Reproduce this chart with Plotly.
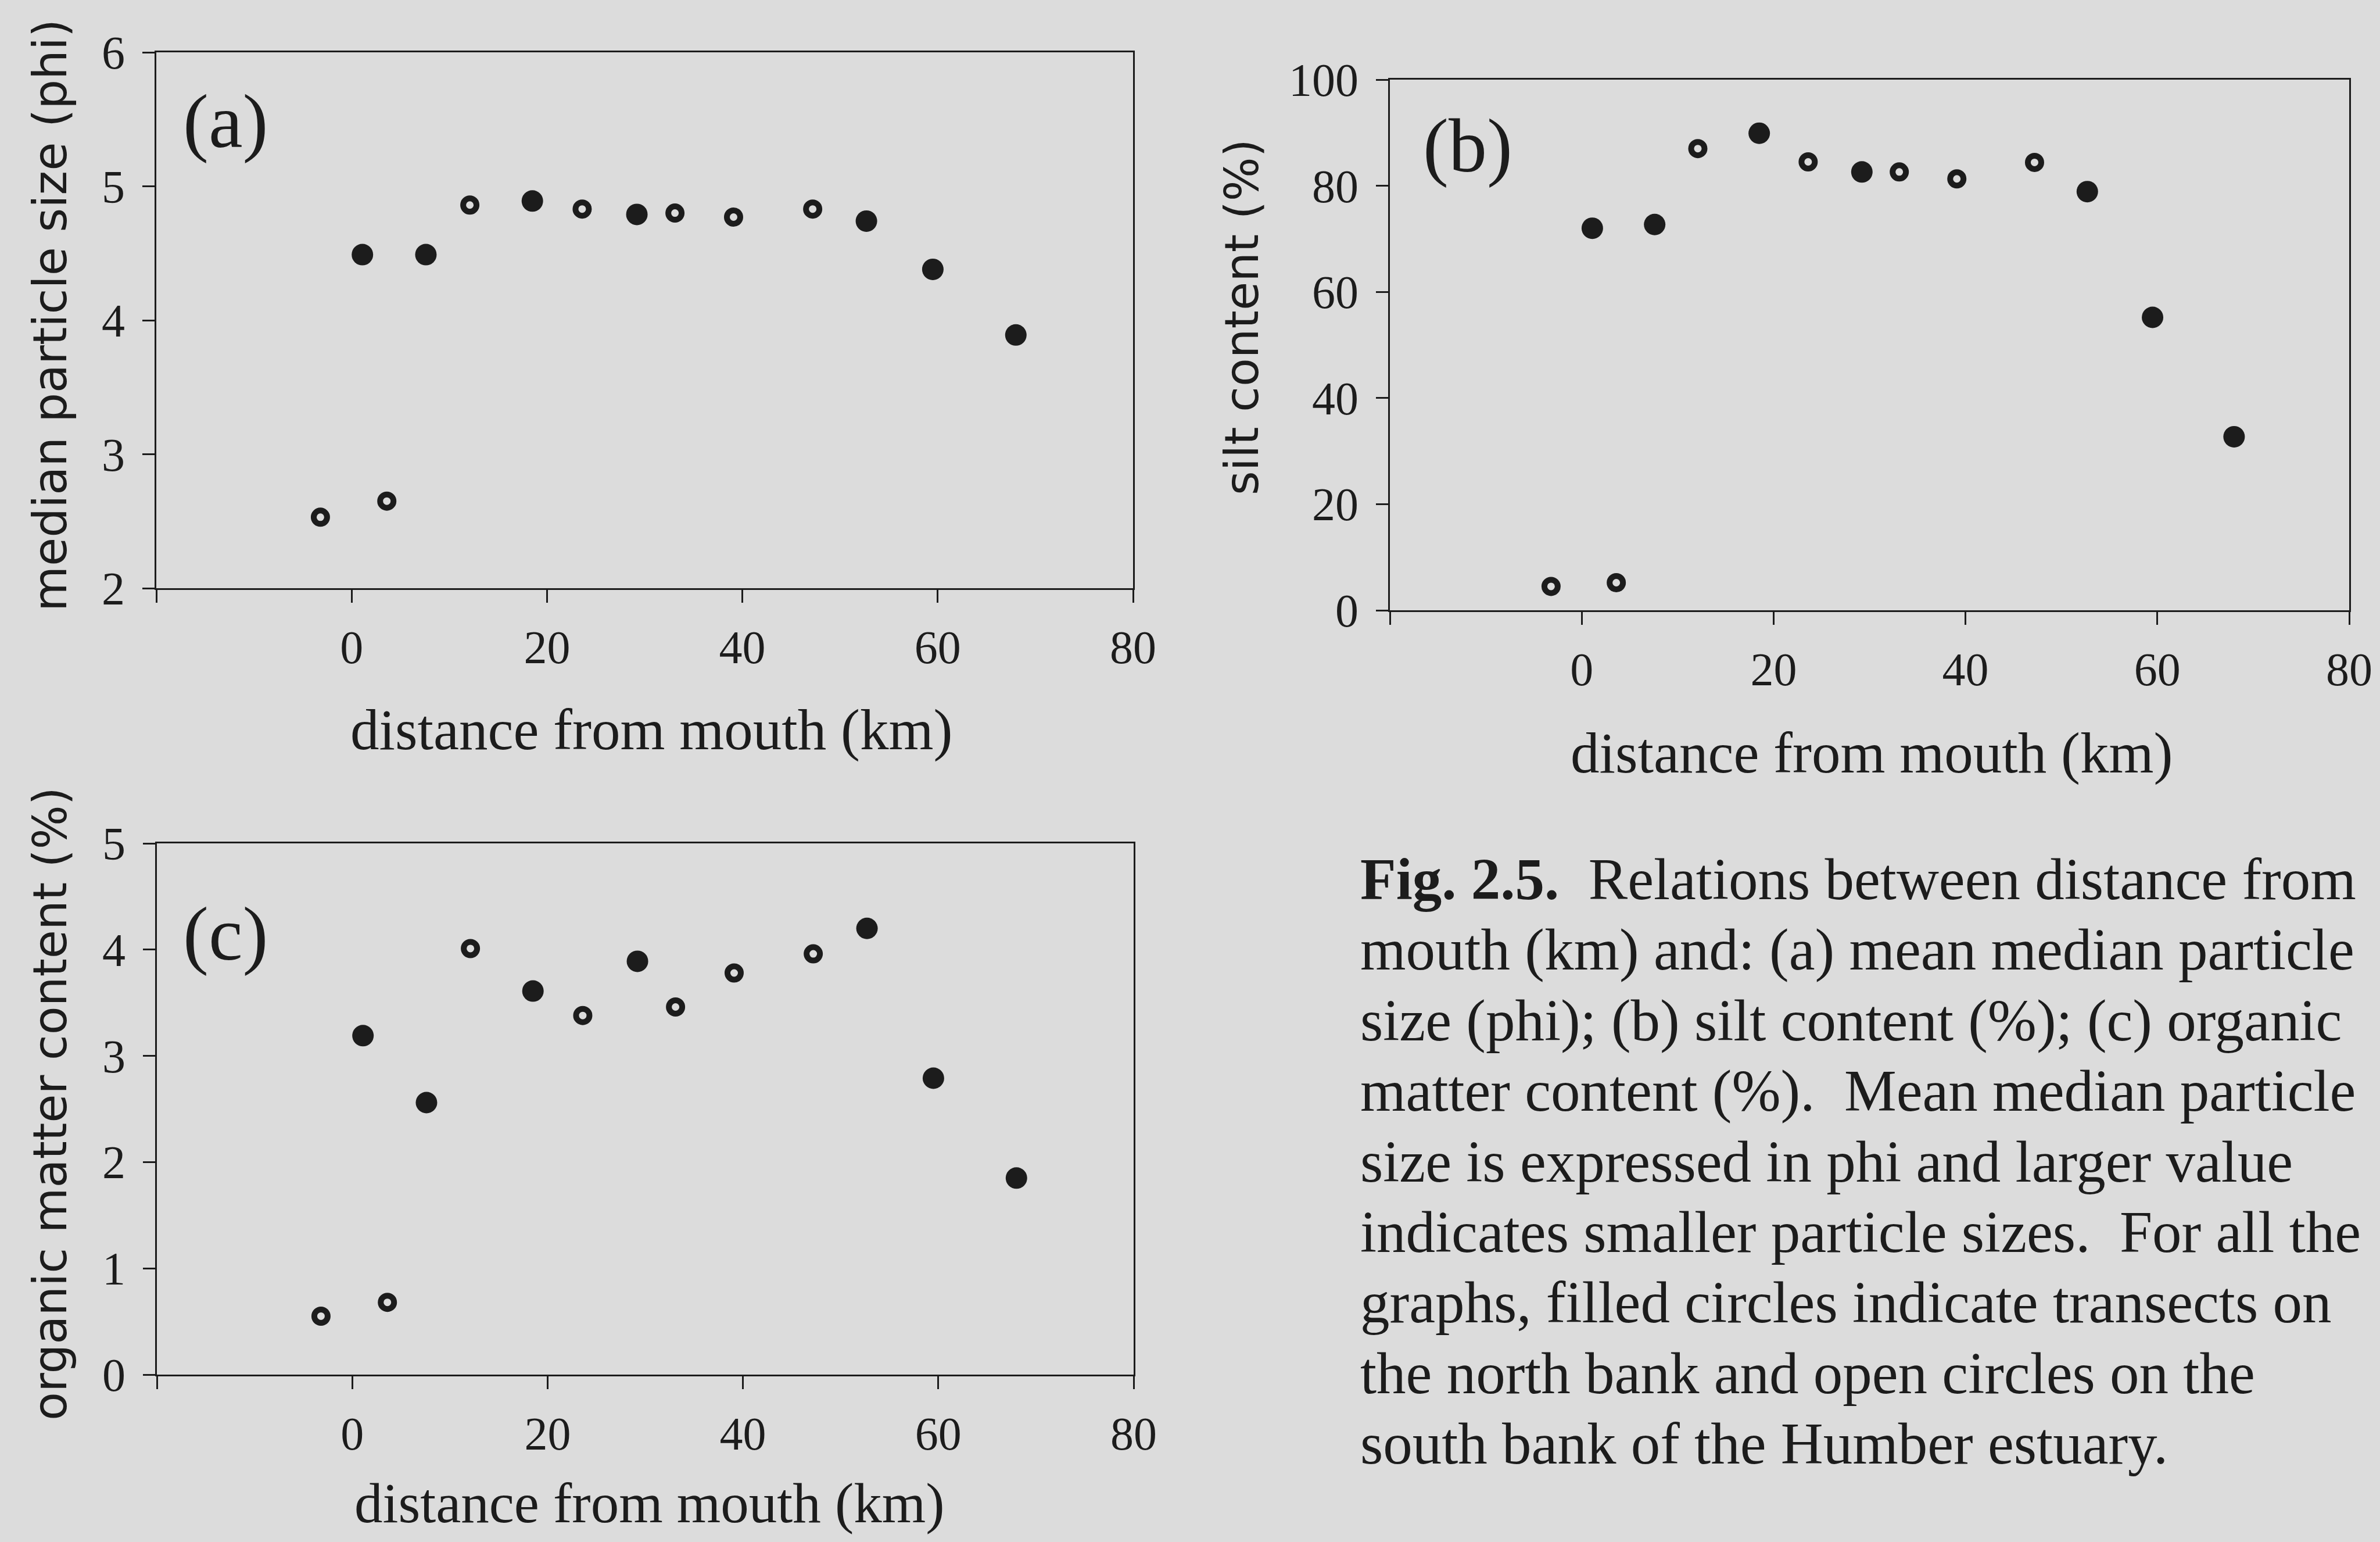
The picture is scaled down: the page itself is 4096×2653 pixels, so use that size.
import plotly.graph_objects as go

# ---------------- data ----------------
south_km = [-3.2, 3.6, 12.1, 23.6, 33.1, 39.1, 47.2]      # open circles (south bank)
north_km = [1.1, 7.6, 18.5, 29.2, 52.7, 59.5, 68.0]       # filled circles (north bank)

phi_south = [2.53, 2.65, 4.86, 4.83, 4.80, 4.77, 4.83]
phi_north = [4.49, 4.49, 4.89, 4.79, 4.74, 4.38, 3.89]

silt_south = [4.5, 5.2, 87.0, 84.5, 82.6, 81.3, 84.4]
silt_north = [72.0, 72.7, 89.9, 82.6, 78.9, 55.2, 32.7]

om_south = [0.55, 0.68, 4.01, 3.38, 3.46, 3.78, 3.96]
om_north = [3.19, 2.56, 3.61, 3.89, 4.20, 2.79, 1.85]

x_tickvals = [-20, 0, 20, 40, 60, 80]
x_ticktext = ["", "0", "20", "40", "60", "80"]
y_ticks_a = [2, 3, 4, 5, 6]
y_ticks_b = [0, 20, 40, 60, 80, 100]
y_ticks_c = [0, 1, 2, 3, 4, 5]

caption_lines = [
    "<b>Fig. 2.5.</b>  Relations between distance from",
    "mouth (km) and: (a) mean median particle",
    "size (phi); (b) silt content (%); (c) organic",
    "matter content (%).  Mean median particle",
    "size is expressed in phi and larger value",
    "indicates smaller particle sizes.  For all the",
    "graphs, filled circles indicate transects on",
    "the north bank and open circles on the",
    "south bank of the Humber estuary.",
]

# ---------------- layout constants ----------------
W, H = 4096, 2653
BG = "#dcdcdc"
INK = "#1c1c1c"
SERIF = "Liberation Serif, Times New Roman, serif"
SANS = "DejaVu Sans, Verdana, sans-serif"


def px_x(p):
    return p / W


def px_y(p):
    return 1 - p / H


fig = go.Figure()

panels = [
    ("x", "y", phi_south, phi_north),
    ("x2", "y2", silt_south, silt_north),
    ("x3", "y3", om_south, om_north),
]
for xa, ya, s_vals, n_vals in panels:
    fig.add_trace(go.Scatter(
        x=south_km, y=s_vals, xaxis=xa, yaxis=ya, mode="markers",
        marker=dict(symbol="circle-open", size=23, color=INK,
                    line=dict(width=10, color=INK)),
        showlegend=False, cliponaxis=False))
    fig.add_trace(go.Scatter(
        x=north_km, y=n_vals, xaxis=xa, yaxis=ya, mode="markers",
        marker=dict(symbol="circle", size=37, color=INK,
                    line=dict(width=0)),
        showlegend=False, cliponaxis=False))

axis_common = dict(
    showline=True, linewidth=3, linecolor=INK, mirror=True,
    ticks="outside", tickwidth=3, tickcolor=INK,
    showgrid=False, zeroline=False, automargin=False,
    tickfont=dict(family=SERIF, size=80, color=INK),
)

def xaxis(domain, anchor):
    return dict(axis_common, domain=domain, anchor=anchor, range=[-20, 80],
                tickmode="array", tickvals=x_tickvals, ticktext=x_ticktext,
                ticklen=22, ticklabelstandoff=8)

def yaxis(domain, anchor, rng, vals):
    return dict(axis_common, domain=domain, anchor=anchor, range=rng,
                tickmode="array", tickvals=vals, ticklen=21,
                ticklabelstandoff=14)

# plot-area pixel boxes (left, right, top, bottom)
A = (269, 1950, 90, 1012)
B = (2392, 4043, 137, 1050)
C = (270, 1951, 1451, 2365)

def dom(box):
    l, r, t, b = box
    return [px_x(l), px_x(r)], [px_y(b), px_y(t)]

ax_a, ay_a = dom(A)
ax_b, ay_b = dom(B)
ax_c, ay_c = dom(C)

fig.update_layout(
    width=W, height=H,
    margin=dict(l=0, r=0, t=0, b=0, pad=0, autoexpand=False),
    paper_bgcolor=BG, plot_bgcolor=BG,
    xaxis=xaxis(ax_a, "y"),
    yaxis=yaxis(ay_a, "x", [2, 6], y_ticks_a),
    xaxis2=xaxis(ax_b, "y2"),
    yaxis2=yaxis(ay_b, "x2", [0, 100], y_ticks_b),
    xaxis3=xaxis(ax_c, "y3"),
    yaxis3=yaxis(ay_c, "x3", [0, 5], y_ticks_c),
    showlegend=False,
)

ann = []

def add_text(text, x, y, size, family, xanchor="center", yanchor="middle", angle=0):
    ann.append(dict(text=text, x=px_x(x), y=px_y(y), xref="paper", yref="paper",
                    showarrow=False, xanchor=xanchor, yanchor=yanchor,
                    textangle=angle, font=dict(family=family, size=size, color=INK)))

# y-axis titles (rotated, sans)
add_text("median particle size (phi)", 86, 543, 80, SANS, angle=-90)
add_text("silt content (%)", 2137, 546, 80, SANS, angle=-90)
add_text("organic matter content (%)", 86, 1899, 80, SANS, angle=-90)

# x-axis titles (serif)
add_text("distance from mouth (km)", 1121, 1256, 99, SERIF)
add_text("distance from mouth (km)", 3221, 1296, 99, SERIF)
add_text("distance from mouth (km)", 1118, 2586, 97, SERIF)

# panel letters
add_text("(a)", 313, 209, 132, SERIF, xanchor="left")
add_text("(b)", 2447, 251, 132, SERIF, xanchor="left")
add_text("(c)", 313, 1606, 132, SERIF, xanchor="left")

# caption, one line per annotation
base0 = 1543
step = 121.4
for i, line in enumerate(caption_lines):
    add_text(line, 2339, base0 + i * step - 30, 101, SERIF, xanchor="left")

fig.update_layout(annotations=ann)

fig.write_html("out.html")
